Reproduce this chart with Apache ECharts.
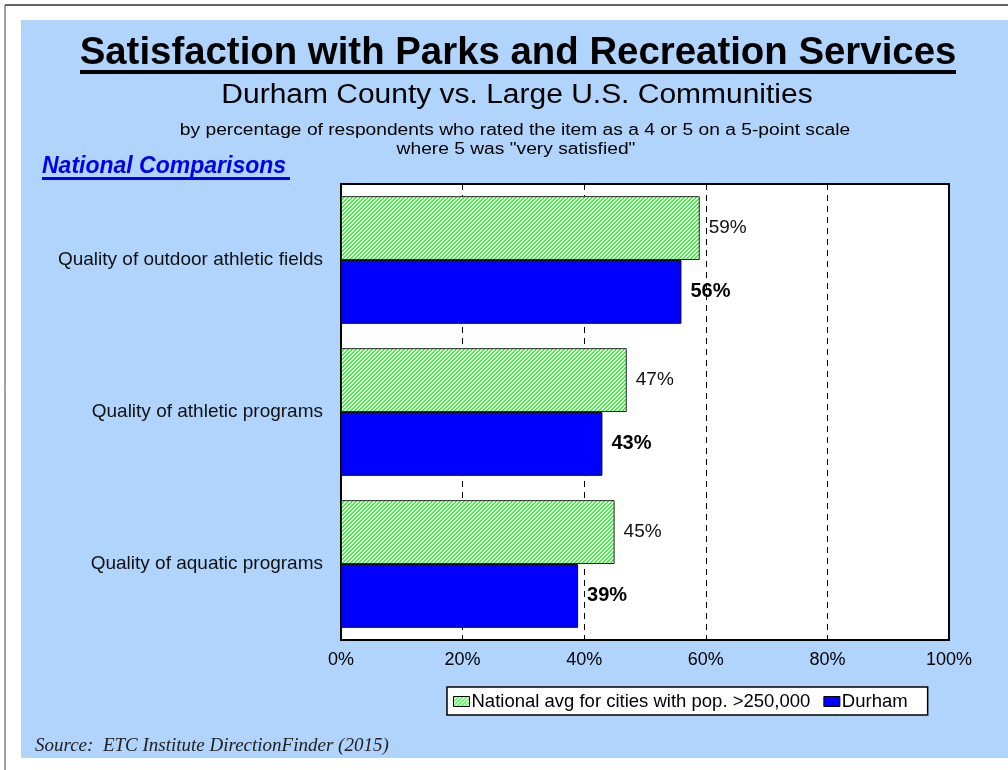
<!DOCTYPE html>
<html>
<head>
<meta charset="utf-8">
<script src="https://cdn.jsdelivr.net/npm/echarts@6/dist/echarts.min.js"></script>
<style>
html,body{margin:0;padding:0;background:#fff;}
#c{width:1008px;height:770px;}
</style>
</head>
<body>
<div id="c"></div>
<script>
var categories = ['Quality of outdoor athletic fields', 'Quality of athletic programs', 'Quality of aquatic programs'];
var nationalValues = [59, 47, 45];
var durhamValues = [56, 43, 39];
var seriesNames = ['National avg for cities with pop. >250,000', 'Durham'];
var xTicks = [0, 20, 40, 60, 80, 100];

function makeHatch() {
  var c = document.createElement('canvas');
  c.width = 4; c.height = 4;
  var ctx = c.getContext('2d');
  ctx.fillStyle = '#ffffff';
  ctx.fillRect(0, 0, 4, 4);
  ctx.fillStyle = '#33ff33';
  for (var y = 0; y < 4; y++) {
    for (var x = 0; x < 4; x++) {
      if (((x + y) % 4) < 2) ctx.fillRect(x, y, 1, 1);
    }
  }
  return c;
}
var hatch = makeHatch();
var SANS = '"Liberation Sans", Arial, sans-serif';

var chart = echarts.init(document.getElementById('c'), null, {renderer: 'canvas'});
var option = {
  animation: false,
  backgroundColor: '#ffffff',
  textStyle: {fontFamily: SANS},
  graphic: [
    {type: 'rect', z: -10, shape: {x: 21, y: 20, width: 987, height: 738}, style: {fill: '#b0d4fc'}},
    {type: 'line', z: -5, shape: {x1: 5, y1: 5, x2: 1008, y2: 5}, style: {stroke: '#666', lineWidth: 2}},
    {type: 'line', z: -5, shape: {x1: 5, y1: 5, x2: 5, y2: 770}, style: {stroke: '#444', lineWidth: 1}},
    {type: 'text', x: 518, y: 35, scaleX: 1.01, style: {text: 'Satisfaction with Parks and Recreation Services', align: 'center', verticalAlign: 'top', font: 'bold 38px ' + SANS, fill: '#000'}},
    {type: 'rect', shape: {x: 80, y: 70, width: 876, height: 4}, style: {fill: '#000'}},
    {type: 'text', x: 517, y: 82, scaleX: 1.11, style: {text: 'Durham County vs. Large U.S. Communities', align: 'center', verticalAlign: 'top', font: '27px ' + SANS, fill: '#000'}},
    {type: 'text', x: 515, y: 123, scaleX: 1.2, style: {text: 'by percentage of respondents who rated the item as a 4 or 5 on a 5-point scale', align: 'center', verticalAlign: 'top', font: '16px ' + SANS, fill: '#000'}},
    {type: 'text', x: 516, y: 142, scaleX: 1.2, style: {text: 'where 5 was "very satisfied"', align: 'center', verticalAlign: 'top', font: '16px ' + SANS, fill: '#000'}},
    {type: 'text', x: 42, y: 155, style: {text: 'National Comparisons', verticalAlign: 'top', font: 'italic bold 23px ' + SANS, fill: '#0000ee'}},
    {type: 'rect', shape: {x: 42, y: 177, width: 248, height: 3}, style: {fill: '#0000ee'}},
    {type: 'text', x: 35, y: 736, style: {text: 'Source:  ETC Institute DirectionFinder (2015)', verticalAlign: 'top', font: 'italic 19px "Liberation Serif", "Times New Roman", serif', fill: '#222'}}
  ],
  legend: {
    data: seriesNames,
    left: 447,
    top: 687,
    padding: [5, 20, 4, 6],
    itemGap: 13,
    itemWidth: 16,
    itemHeight: 10,
    icon: 'rect',
    itemStyle: {borderColor: '#000', borderWidth: 1},
    backgroundColor: '#ffffff',
    borderColor: '#000',
    borderWidth: 1.5,
    textStyle: {fontSize: 18.5, color: '#000', padding: [0, 0, 0, -3]},
    selectedMode: false
  },
  grid: {
    left: 341, top: 184, right: 59, bottom: 130,
    show: true, backgroundColor: '#ffffff', borderColor: '#000', borderWidth: 2,
    containLabel: false
  },
  xAxis: {
    type: 'value', min: xTicks[0], max: xTicks[xTicks.length - 1], interval: 20,
    axisLine: {show: false}, axisTick: {show: false},
    axisLabel: {formatter: '{value}%', fontSize: 18, color: '#000', margin: 11},
    splitLine: {show: true, lineStyle: {color: '#000', type: [6, 5], width: 1}}
  },
  yAxis: {
    type: 'category', data: categories, inverse: true,
    axisLine: {show: false}, axisTick: {show: false},
    axisLabel: {fontSize: 19, color: '#111', margin: 18}
  },
  series: [
    {
      name: seriesNames[0], type: 'bar', data: nationalValues,
      barGap: '0%', barCategoryGap: '16%',
      itemStyle: {color: {image: hatch, repeat: 'repeat'}, borderColor: '#222', borderWidth: 1},
      label: {show: true, position: 'right', distance: 9, formatter: '{c}%', fontSize: 19, color: '#111'}
    },
    {
      name: seriesNames[1], type: 'bar', data: durhamValues,
      barGap: '0%', barCategoryGap: '16%',
      itemStyle: {color: '#0000ff', borderColor: '#111', borderWidth: 1},
      label: {show: true, position: 'right', distance: 9, formatter: '{c}%', fontSize: 20, fontWeight: 'bold', color: '#000'}
    }
  ]
};
chart.setOption(option);
</script>
</body>
</html>
